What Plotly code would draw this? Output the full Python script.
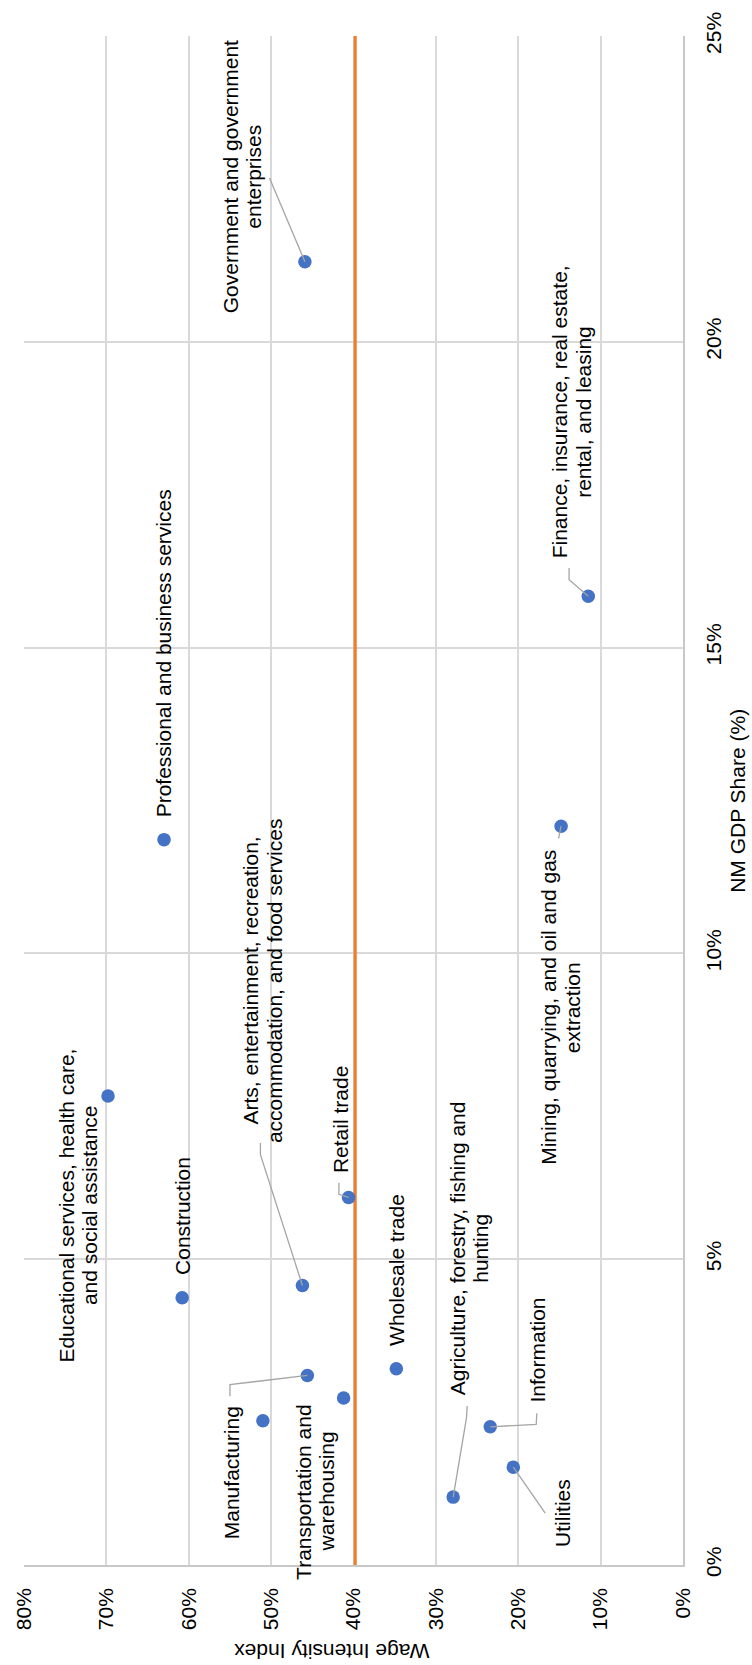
import plotly.graph_objects as go

# ---------------- data ----------------
sectors = [
    "Government and government enterprises",
    "Finance, insurance, real estate, rental, and leasing",
    "Professional and business services",
    "Mining, quarrying, and oil and gas extraction",
    "Educational services, health care, and social assistance",
    "Construction",
    "Arts, entertainment, recreation, accommodation, and food services",
    "Retail trade",
    "Wholesale trade",
    "Manufacturing",
    "Transportation and warehousing",
    "Other services",
    "Agriculture, forestry, fishing and hunting",
    "Information",
    "Utilities",
]
wage_index = [45.9, 11.5, 63.0, 14.8, 69.8, 60.8, 46.2, 40.6, 34.8, 45.6, 41.2, 51.0, 27.9, 23.4, 20.6]
gdp_share = [21.31, 15.84, 11.86, 12.08, 7.67, 4.37, 4.57, 6.01, 3.21, 3.10, 2.73, 2.36, 1.11, 2.26, 1.60]
avg_wage = 39.8

label_text = [
    "Government and government<br>enterprises",
    "Finance, insurance, real estate,<br>rental, and leasing",
    "Professional and business services",
    "Mining, quarrying, and oil and gas<br>extraction",
    "Educational services, health care,<br>and social assistance",
    "Construction",
    "Arts, entertainment, recreation,<br>accommodation, and food services",
    "Retail trade",
    "Wholesale trade",
    "Manufacturing",
    "Transportation and<br>warehousing",
    "",
    "Agriculture, forestry, fishing and<br>hunting",
    "Information",
    "Utilities",
]

x_ticks = [0, 10, 20, 30, 40, 50, 60, 70, 80]
x_ticktext = ["0%", "10%", "20%", "30%", "40%", "50%", "60%", "70%", "80%"]
y_ticks = [0, 5, 10, 15, 20, 25]
y_ticktext = ["0%", "5%", "10%", "15%", "20%", "25%"]

# ---------------- label placement (layout) ----------------
label_pos = [
    (53.5, 22.70), (13.6, 18.85), (63.05, 14.90), (14.84, 9.11),
    (73.45, 5.88), (60.75, 5.70), (51.1, 9.56), (41.6, 7.28),
    (34.8, 4.83), (54.8, 1.51), (44.67, 1.20), None,
    (26.0, 5.18), (17.7, 3.51), (14.7, 0.85),
]
leader_pts = [
    [(50.2, 22.68)],
    [(13.83, 16.30), (13.83, 16.11)],
    None,
    [(15.1, 11.88)],
    None,
    None,
    [(51.3, 6.90), (51.3, 6.71)],
    [(41.77, 6.25), (41.77, 6.06)],
    None,
    [(55.0, 2.76), (55.0, 2.95)],
    None,
    None,
    [(26.2, 2.60), (26.29, 2.40)],
    [(17.74, 2.48), (17.82, 2.30)],
    [(16.73, 0.85)],
]

FONT = "Liberation Sans, Arial, sans-serif"
TXT = "#000000"
FS = 21
LINE_GAP = 23.5  # px between label lines

fig = go.Figure()

# average line
fig.add_trace(go.Scatter(
    x=[avg_wage, avg_wage], y=[0, 25.05], mode="lines",
    line=dict(color="#ED7D31", width=3.2), hoverinfo="skip", showlegend=False,
    cliponaxis=False,
))

# points
fig.add_trace(go.Scatter(
    x=wage_index, y=gdp_share, mode="markers", text=sectors,
    marker=dict(color="#4472C4", size=13.5), showlegend=False,
))

# leader lines
lx, ly = [], []
for i, pts in enumerate(leader_pts):
    if not pts:
        continue
    for (a, b) in pts:
        lx.append(a)
        ly.append(b)
    lx.append(wage_index[i])
    ly.append(gdp_share[i])
    lx.append(None)
    ly.append(None)
fig.add_trace(go.Scatter(
    x=lx, y=ly, mode="lines", line=dict(color="#A5A5A5", width=1.3),
    hoverinfo="skip", showlegend=False,
))

annotations = []
for i, pos in enumerate(label_pos):
    if pos is None or not label_text[i]:
        continue
    lines = label_text[i].split("<br>")
    n = len(lines)
    for k, line in enumerate(lines):
        annotations.append(dict(
            x=pos[0], y=pos[1], xref="x", yref="y", text=line,
            xshift=(k - (n - 1) / 2) * LINE_GAP,
            showarrow=False, textangle=-90, xanchor="center", yanchor="middle",
            align="center", font=dict(family=FONT, size=FS, color=TXT),
        ))

annotations.append(dict(
    x=1.0825, y=0.5, xref="paper", yref="paper", text="NM GDP Share (%)",
    showarrow=False, textangle=-90, xanchor="center", yanchor="middle",
    font=dict(family=FONT, size=FS, color=TXT),
))
annotations.append(dict(
    x=0.467, y=-0.057, xref="paper", yref="paper", text="Wage Intensity Index",
    showarrow=False, textangle=180, xanchor="center", yanchor="middle",
    font=dict(family=FONT, size=FS, color=TXT),
))

fig.update_layout(
    width=752, height=1665,
    margin=dict(l=21, r=69, t=30, b=100, pad=0),
    paper_bgcolor="white", plot_bgcolor="white",
    font=dict(family=FONT, size=FS, color=TXT),
    annotations=annotations,
    xaxis=dict(
        range=[80, 0], tickvals=x_ticks, ticktext=x_ticktext, tickangle=-90,
        showgrid=True, gridcolor="#D9D9D9", gridwidth=1.5,
        zeroline=False, showline=True, linecolor="#C8C8C8", linewidth=1.5,
        ticks="", ticklabelstandoff=13, fixedrange=True,
    ),
    yaxis=dict(
        range=[0, 25], tickvals=y_ticks, ticktext=y_ticktext, tickangle=-90,
        side="right", showgrid=True, gridcolor="#D9D9D9", gridwidth=1.5,
        zeroline=False, showline=True, linecolor="#C8C8C8", linewidth=1.5,
        ticks="", ticklabelstandoff=11, fixedrange=True,
    ),
)

fig.write_html("out.html")
